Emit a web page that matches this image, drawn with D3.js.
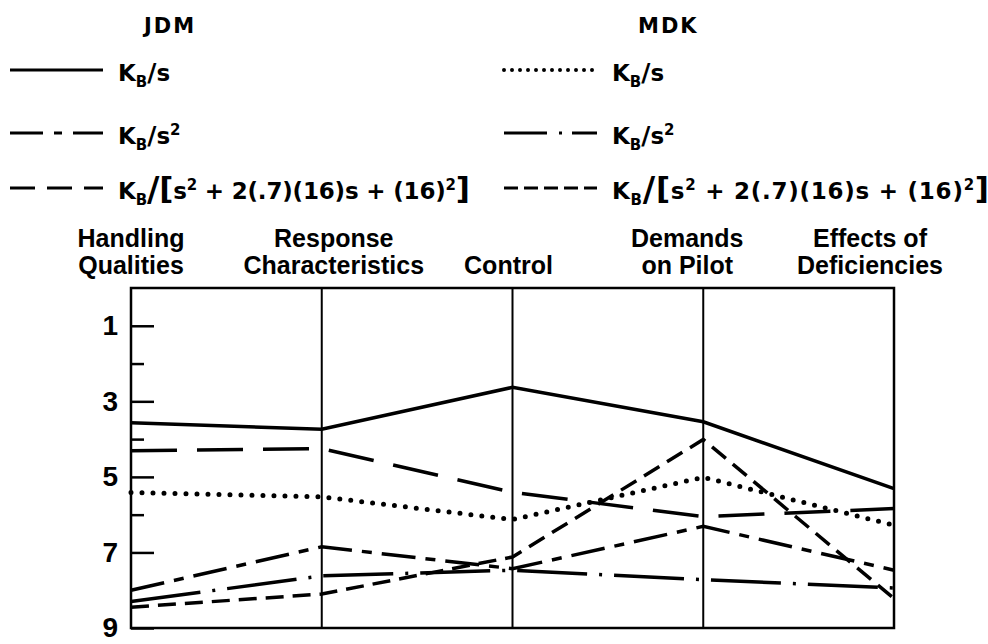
<!DOCTYPE html>
<meta charset="utf-8">
<script src="https://cdn.jsdelivr.net/npm/d3@7/dist/d3.min.js"></script>
<style>
body { margin: 0; background: #fff; }
text { font-family: "Liberation Sans", Arial, sans-serif; font-weight: bold; fill: #000; }
.legend text, .pilot { font-family: "DejaVu Sans", sans-serif; }
.frame { fill: none; stroke: #000; stroke-width: 2.5px; }
.axisline { stroke: #000; stroke-width: 2px; }
.line { fill: none; stroke: #000; }
</style>
<body>
<script>

// rating categories, one vertical axis each
var categories = [["Handling", "Qualities"], ["Response", "Characteristics"], ["Control"],
                  ["Demands", "on Pilot"], ["Effects of", "Deficiencies"]];

// pilot ratings (left to right)
var jdmS   = [3.57, 3.74, 2.63, 3.54, 5.31];
var jdmS2  = [8.0, 6.85, 7.43, 6.31, 7.47];
var jdmSec = [4.31, 4.25, 5.41, 6.05, 5.84];
var mdkS   = [5.41, 5.53, 6.13, 5.01, 6.28];
var mdkS2  = [8.3, 7.62, 7.47, 7.72, 7.94];
var mdkSec = [8.45, 8.1, 7.12, 4.01, 8.22];

var pilots = ["JDM", "MDK"];
var majorTicks = [1, 3, 5, 7, 9];
var minorTicks = [2, 4, 6];

// legend formulas: [text, font size, dy]
var fS   = [["K", 23, 0], ["B", 15, 6], ["/", 25, -6], ["s", 23, 0]];
var fS2  = [["K", 23, 0], ["B", 15, 6], ["/", 25, -6], ["s", 23, 0], ["2", 15, -9]];
var fSec = [["K", 23, 0], ["B", 15, 6], ["/", 34, -4], ["[", 31, -2], ["s", 23, 0], ["2", 15, -9],
            [" + 2(.7)(16)s + (16)", 23, 9], ["2", 15, -9], ["]", 31, 9]];

// line styles (plot dash, legend dash)
var series = [
  {pilot: 0, row: 0, values: jdmS,   label: fS,   dash: null,          ldash: null},
  {pilot: 0, row: 1, values: jdmS2,  label: fS2,  dash: "34,10,10,10", ldash: "33,11,8,11"},
  {pilot: 0, row: 2, values: jdmSec, label: fSec, dash: "46,20",       ldash: "25,12"},
  {pilot: 1, row: 0, values: mdkS,   label: fS,   dash: "0,11",        ldash: "0,8", round: true},
  {pilot: 1, row: 1, values: mdkS2,  label: fS2,  dash: "70,12,3,12",  ldash: "43,12,3,10"},
  {pilot: 1, row: 2, values: mdkSec, label: fSec, dash: "18,9",        ldash: "14,6"}
];

var width = 988, height = 644;
var plot = {left: 131, right: 894, top: 288, bottom: 628};

var svg = d3.select("body").append("svg")
    .attr("width", width)
    .attr("height", height);

var x = d3.scalePoint().domain(d3.range(categories.length)).range([plot.left, plot.right]);
var y = d3.scaleLinear().domain([0, 9]).range([plot.top, plot.bottom]);

// frame and the inner category axes
svg.append("rect")
    .attr("class", "frame")
    .attr("x", plot.left).attr("y", plot.top)
    .attr("width", plot.right - plot.left).attr("height", plot.bottom - plot.top);

svg.selectAll(".axisline")
    .data(d3.range(1, categories.length - 1))
  .enter().append("line")
    .attr("class", "axisline")
    .attr("x1", function(d) { return x(d); }).attr("x2", function(d) { return x(d); })
    .attr("y1", plot.top).attr("y2", plot.bottom);

// y axis: long ticks with labels, short ticks between
var yMajor = svg.append("g")
    .attr("transform", "translate(" + plot.left + ",0)")
    .call(d3.axisLeft(y).tickValues(majorTicks).tickSize(-23).tickPadding(13).tickFormat(d3.format("d")));
var yMinor = svg.append("g")
    .attr("transform", "translate(" + plot.left + ",0)")
    .call(d3.axisLeft(y).tickValues(minorTicks).tickSize(-13).tickFormat(""));
svg.selectAll(".domain").remove();
svg.selectAll(".tick line").attr("stroke", "#000").attr("stroke-width", 2.5);
yMajor.selectAll("text")
    .attr("font-size", 28)
    .attr("font-family", "Liberation Sans")
    .attr("font-weight", "bold")
    .attr("fill", "#000");

// category headings
var labelShift = [0, 12, -4, -16, -24];
var heads = svg.selectAll(".head")
    .data(categories)
  .enter().append("text")
    .attr("class", "head")
    .attr("text-anchor", "middle")
    .attr("font-size", 25)
    .attr("transform", function(d, i) { return "translate(" + (x(i) + labelShift[i]) + ",0)"; });
heads.selectAll("tspan")
    .data(function(d) { return d.length == 1 ? [null, d[0]] : d; })
  .enter().append("tspan")
    .attr("x", 0)
    .attr("y", function(d, i) { return i == 0 ? 247 : 274; })
    .text(function(d) { return d; });

// data lines
var valueline = d3.line()
    .x(function(d, i) { return x(i); })
    .y(function(d) { return y(d); });

series.forEach(function(s) {
  svg.append("path")
      .datum(s.values)
      .attr("class", "line")
      .attr("d", valueline)
      .style("stroke-dasharray", s.dash)
      .style("stroke-linecap", s.round ? "round" : "butt")
      .style("stroke-width", s.round ? 5 : 3.5);
});

// legend
var legX = [10, 504], rowY = [70, 133, 188], textW = [352, 377];
svg.selectAll(".pilot")
    .data(pilots)
  .enter().append("text")
    .attr("class", "pilot")
    .attr("x", function(d, i) { return legX[i] + 134; })
    .attr("y", 33)
    .attr("font-size", 21)
    .attr("letter-spacing", 2)
    .text(function(d) { return d; });

var legend = svg.append("g").attr("class", "legend");
series.forEach(function(s) {
  var x0 = legX[s.pilot], y0 = rowY[s.row];
  legend.append("line")
      .attr("x1", x0).attr("x2", x0 + 93)
      .attr("y1", y0).attr("y2", y0)
      .style("stroke", "#000")
      .style("stroke-width", s.round ? 4 : 3)
      .style("stroke-linecap", s.round ? "round" : "butt")
      .style("stroke-dasharray", s.ldash);
  var t = legend.append("text")
      .attr("x", x0 + 108)
      .attr("y", y0 + 11);
  s.label.forEach(function(p) {
    t.append("tspan")
        .attr("font-size", p[1])
        .attr("dy", p[2])
        .text(p[0]);
  });
  // the long formula is stretched a little in the original
  if (s.row == 2) t.attr("textLength", textW[s.pilot]).attr("lengthAdjust", "spacing");
});

</script>
</body>
